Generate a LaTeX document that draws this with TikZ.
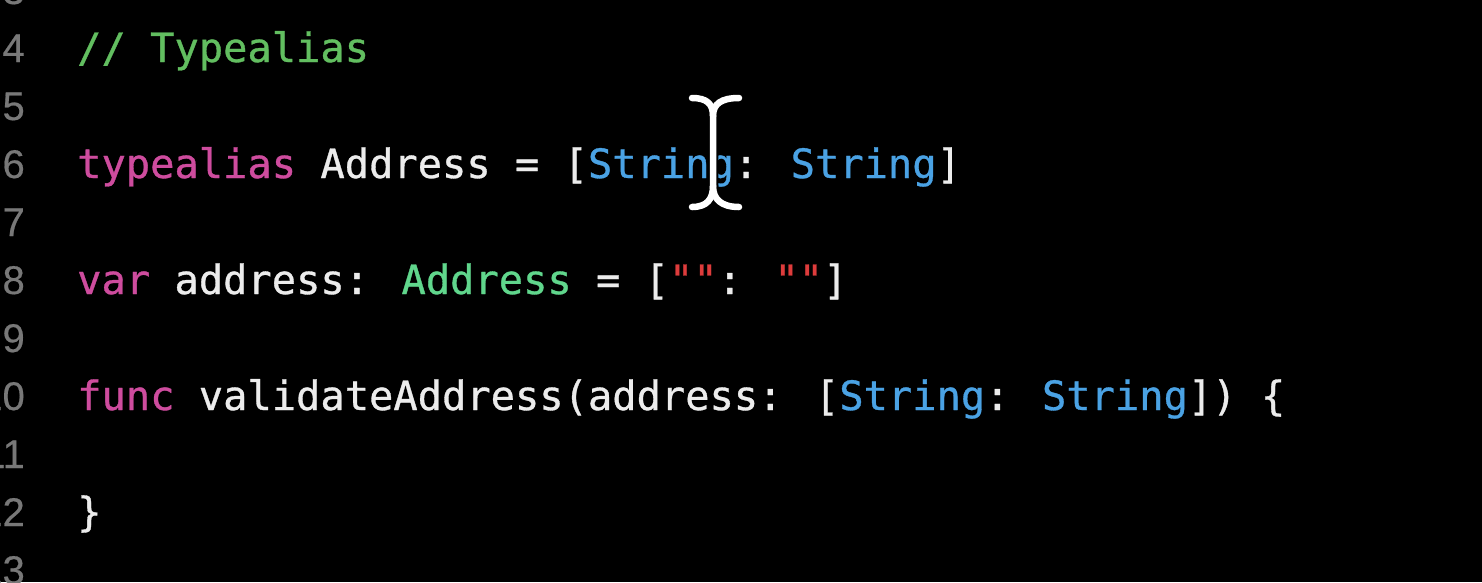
\documentclass[tikz,border=0pt]{standalone}
\usepackage{fontspec}
\newfontfamily\codefont[Ligatures=ResetAll,FakeBold=0.8]{DejaVu Sans Mono}
\newfontfamily\numfont[FakeBold=0.5]{Liberation Sans}
\definecolor{bgc}{RGB}{0,0,0}
\definecolor{plain}{RGB}{236,236,236}
\definecolor{kw}{RGB}{206,76,158}
\definecolor{cmt}{RGB}{98,190,96}
\definecolor{typ}{RGB}{96,214,140}
\definecolor{lib}{RGB}{74,162,228}
\definecolor{strc}{RGB}{222,60,60}
\definecolor{lnum}{RGB}{120,120,120}
\newcommand{\K}[1]{\textcolor{kw}{#1}}
\newcommand{\B}[1]{\textcolor{lib}{#1}}
\newcommand{\G}[1]{\textcolor{typ}{#1}}
\newcommand{\Q}{\textcolor{strc}{\char34\char34}}
\tikzset{
  codeline/.style={anchor=base west, inner sep=0pt, text=plain, font=\codefont\fontsize{40.4}{48}\selectfont},
  numline/.style={anchor=base east, inner sep=0pt, text=lnum, font=\numfont\fontsize{40}{48}\selectfont},
}
\begin{document}
\begin{tikzpicture}[x=1pt,y=-1pt]
\fill[bgc] (0,0) rectangle (1482,582);
\useasboundingbox (0,0) rectangle (1482,582);
\clip (0,0) rectangle (1482,582);
% line numbers
\node[numline] (n3) at (25,4) {3};
\node[numline] (n4) at (25,62) {4};
\node[numline] (n5) at (25,120) {5};
\node[numline] (n6) at (25,178) {6};
\node[numline] (n7) at (25,236) {7};
\node[numline] (n8) at (25,294) {8};
\node[numline] (n9) at (25,352) {9};
\node[numline] (n10) at (25,410) {10};
\node[numline] (n11) at (25,468) {11};
\node[numline] (n12) at (25,526) {12};
\node[numline] (n13) at (25,584) {13};
% code
\node[codeline, text=cmt] (l4) at (77,62) {// Typealias};
\node[codeline] (l6) at (77,178) {\K{typealias} Address = [\B{String}: \B{String}]};
\node[codeline] (l8) at (77,294) {\K{var} address: \G{Address} = [\Q: \Q]};
\node[codeline] (l10) at (77,410) {\K{func} validateAddress(address: [\B{String}: \B{String}]) \{};
\node[codeline] (l12) at (77,526) {\}};
% I-beam cursor
\begin{scope}[line cap=round]
\foreach \w/\c in {10.5/black, 6.5/white}{
  \draw[line width=\w pt, color=\c]
    (692,98) .. controls (707,98) and (713,104) .. (713,116) -- (713,186)
    .. controls (713,199) and (707,207) .. (692,207);
  \draw[line width=\w pt, color=\c]
    (739,98) .. controls (721,98) and (713,104) .. (713,116);
  \draw[line width=\w pt, color=\c]
    (713,186) .. controls (713,199) and (721,207) .. (739,207);
}
\end{scope}
\end{tikzpicture}
\end{document}
